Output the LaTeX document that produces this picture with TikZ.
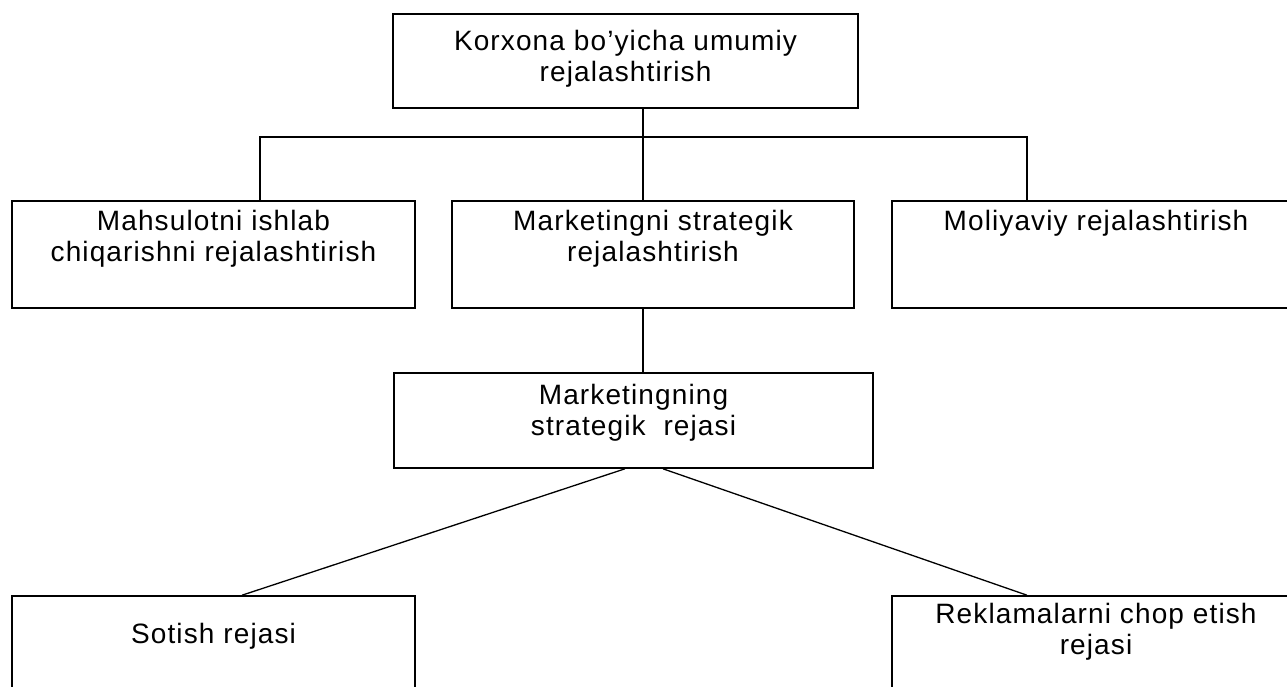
\documentclass[tikz,border=0pt]{standalone}
\usepackage{fontspec}
\setmainfont{Liberation Sans}[LetterSpace=4]
\usetikzlibrary{positioning}

\begin{document}
\begin{tikzpicture}[x=1pt, y=-1pt]
            \tikzset{plan/.style={draw, line width=1.6pt, inner sep=0pt},
                     plantext/.style={anchor=north, align=center, inner sep=0pt, font=\fontsize{28}{31}\selectfont},
                     link/.style={line width=1.3pt}}

            \useasboundingbox (0,0) rectangle (1287,686);
            \clip (0,0) rectangle (1287,686);

            \node[plan, minimum width=465pt, minimum height=94pt,
                  label={[plantext, yshift=-17pt]north:Korxona bo'yicha umumiy\\rejalashtirish}] (korxona) at (625.5,61) {};

            \node[plan, minimum width=403pt, minimum height=107pt,
                  label={[plantext, yshift=-10pt]north:Mahsulotni ishlab\\chiqarishni rejalashtirish}] (mahsulot) at (213.5,254.5) {};
            \node[plan, minimum width=402pt, minimum height=107pt,
                  label={[plantext, yshift=-10pt]north:Marketingni strategik\\rejalashtirish}] (mstrat) at (653,254.5) {};
            \node[plan, minimum width=408pt, minimum height=107pt,
                  label={[plantext, yshift=-10pt]north:Moliyaviy rejalashtirish}] (moliya) at (1096,254.5) {};

            \node[plan, minimum width=479pt, minimum height=95pt,
                  label={[plantext, yshift=-12pt]north:Marketingning\\strategik~~rejasi}] (mreja) at (633.5,420.5) {};

            \node[plan, minimum width=403pt, minimum height=124pt,
                  label={[plantext, yshift=-28pt]north:Sotish rejasi}] (sotish) at (213.5,658) {};
            \node[plan, minimum width=408pt, minimum height=124pt,
                  label={[plantext, yshift=-8pt]north:Reklamalarni chop etish\\rejasi}] (reklama) at (1096,658) {};

            \coordinate (trunk) at (643,137);
            \coordinate (busL) at (260,137);
            \coordinate (busR) at (1027,137);

            \draw[link] (korxona.south -| trunk) -- (mstrat.north -| trunk);
            \draw[link] (mahsulot.north -| busL) -- (busL) -- (busR) -- (moliya.north -| busR);
            \draw[link] (mstrat.south -| trunk) -- (mreja.north -| trunk);

            \draw[link] ([xshift=-8.5pt]mreja.south) -- ([xshift=28.5pt]sotish.north);
            \draw[link] ([xshift=29.5pt]mreja.south) -- ([xshift=-69pt]reklama.north);
        \end{tikzpicture}
\end{document}
